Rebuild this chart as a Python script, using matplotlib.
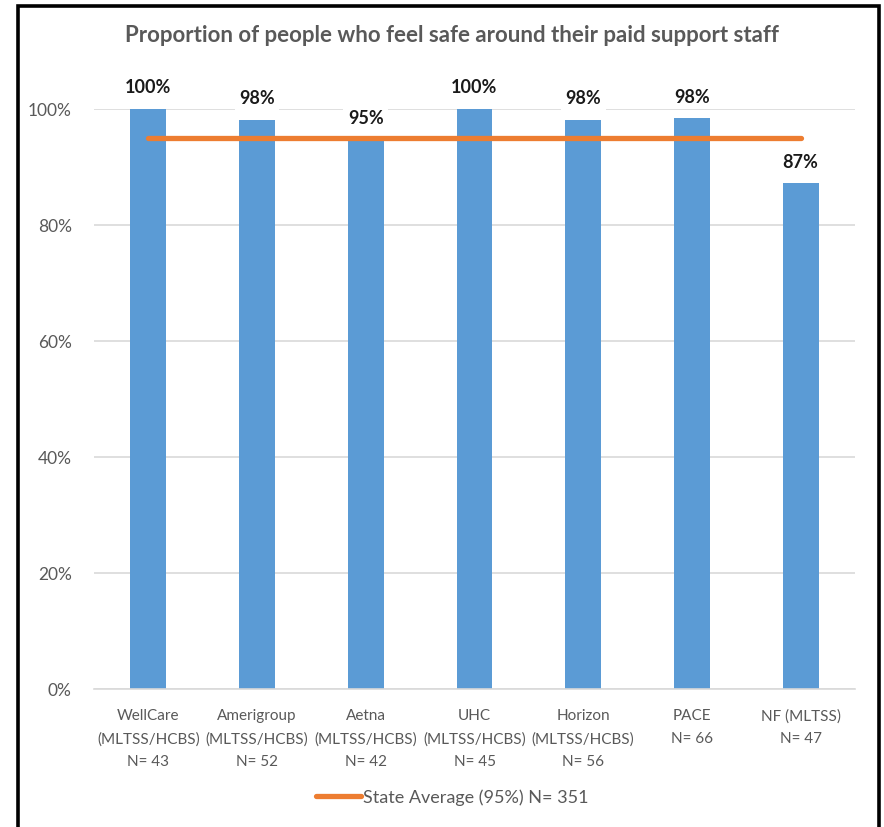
import matplotlib
matplotlib.use("Agg")
import matplotlib.pyplot as plt
from matplotlib.patches import Rectangle
from matplotlib.lines import Line2D
from matplotlib.ticker import FuncFormatter

plt.rcParams['font.family'] = ['Lato', 'DejaVu Sans']

categories = ["WellCare\n(MLTSS/HCBS)\nN= 43", "Amerigroup\n(MLTSS/HCBS)\nN= 52",
              "Aetna\n(MLTSS/HCBS)\nN= 42", "UHC\n(MLTSS/HCBS)\nN= 45",
              "Horizon\n(MLTSS/HCBS)\nN= 56", "PACE\nN= 66", "NF (MLTSS)\nN= 47"]
values = [1.00, 0.981, 0.947, 1.00, 0.981, 0.984, 0.872]
value_labels = ["100%", "98%", "95%", "100%", "98%", "98%", "87%"]
state_avg = [0.95] * 7
title = "Proportion of people who feel safe around their paid support staff"
legend_label = "State Average (95%) N= 351"

W, H = 884, 828
fig = plt.figure(figsize=(W / 100, H / 100), dpi=100)
ax = fig.add_axes([94 / W, (H - 690) / H, (855 - 94) / W, 580 / H])

x = list(range(len(categories)))
ax.bar(x, values, width=0.33, color="#5B9BD5", zorder=2)
ax.plot(x, state_avg, color="#ED7D31", lw=3.8, solid_capstyle="round", zorder=3)

for xi, v, lab in zip(x, values, value_labels):
    ax.annotate(lab, (xi, v), xytext=(0, 16), textcoords="offset points",
                ha="center", va="center", fontsize=13, fontweight="bold",
                color="#1a1a1a", zorder=4, annotation_clip=False,
                bbox=dict(boxstyle="square,pad=0.25", fc="white", ec="none"))

ax.set_xlim(-0.5, len(categories) - 0.5)
ax.set_ylim(0, 1.0)
ax.set_yticks([0, 0.2, 0.4, 0.6, 0.8, 1.0])
ax.yaxis.set_major_formatter(FuncFormatter(lambda v, p: f"{v*100:.0f}%"))
ax.grid(axis="y", color="#D9D9D9", lw=1.2, zorder=0)
ax.set_axisbelow(True)
for s in ["top", "right", "left"]:
    ax.spines[s].set_visible(False)
ax.spines["bottom"].set_color("#D9D9D9")
ax.spines["bottom"].set_linewidth(1.2)
ax.set_xticks(x)
ax.set_xticklabels(categories, fontsize=11, color="#595959", linespacing=1.75)
ax.tick_params(axis="x", length=0, pad=14)
ax.tick_params(axis="y", length=0, pad=16, labelsize=12.5, labelcolor="#595959")

fig.text(452 / W, 1 - 36 / H, title, ha="center", va="center", fontsize=16,
         fontweight="bold", color="#595959")

handle = Line2D([0], [0], color="#ED7D31", lw=3.8, solid_capstyle="round")
fig.legend([handle], [legend_label], loc="center", bbox_to_anchor=(452 / W, 30 / H),
           frameon=False, fontsize=13, handlelength=2.5, handletextpad=0.1,
           labelcolor="#595959")

fig.patches.append(Rectangle((18 / W, -0.05), (879 - 18) / W, 1.05 - 7 / H,
                             transform=fig.transFigure, fill=False, ec="black",
                             lw=2.6, zorder=10))

fig.savefig("out.png", dpi=100)
